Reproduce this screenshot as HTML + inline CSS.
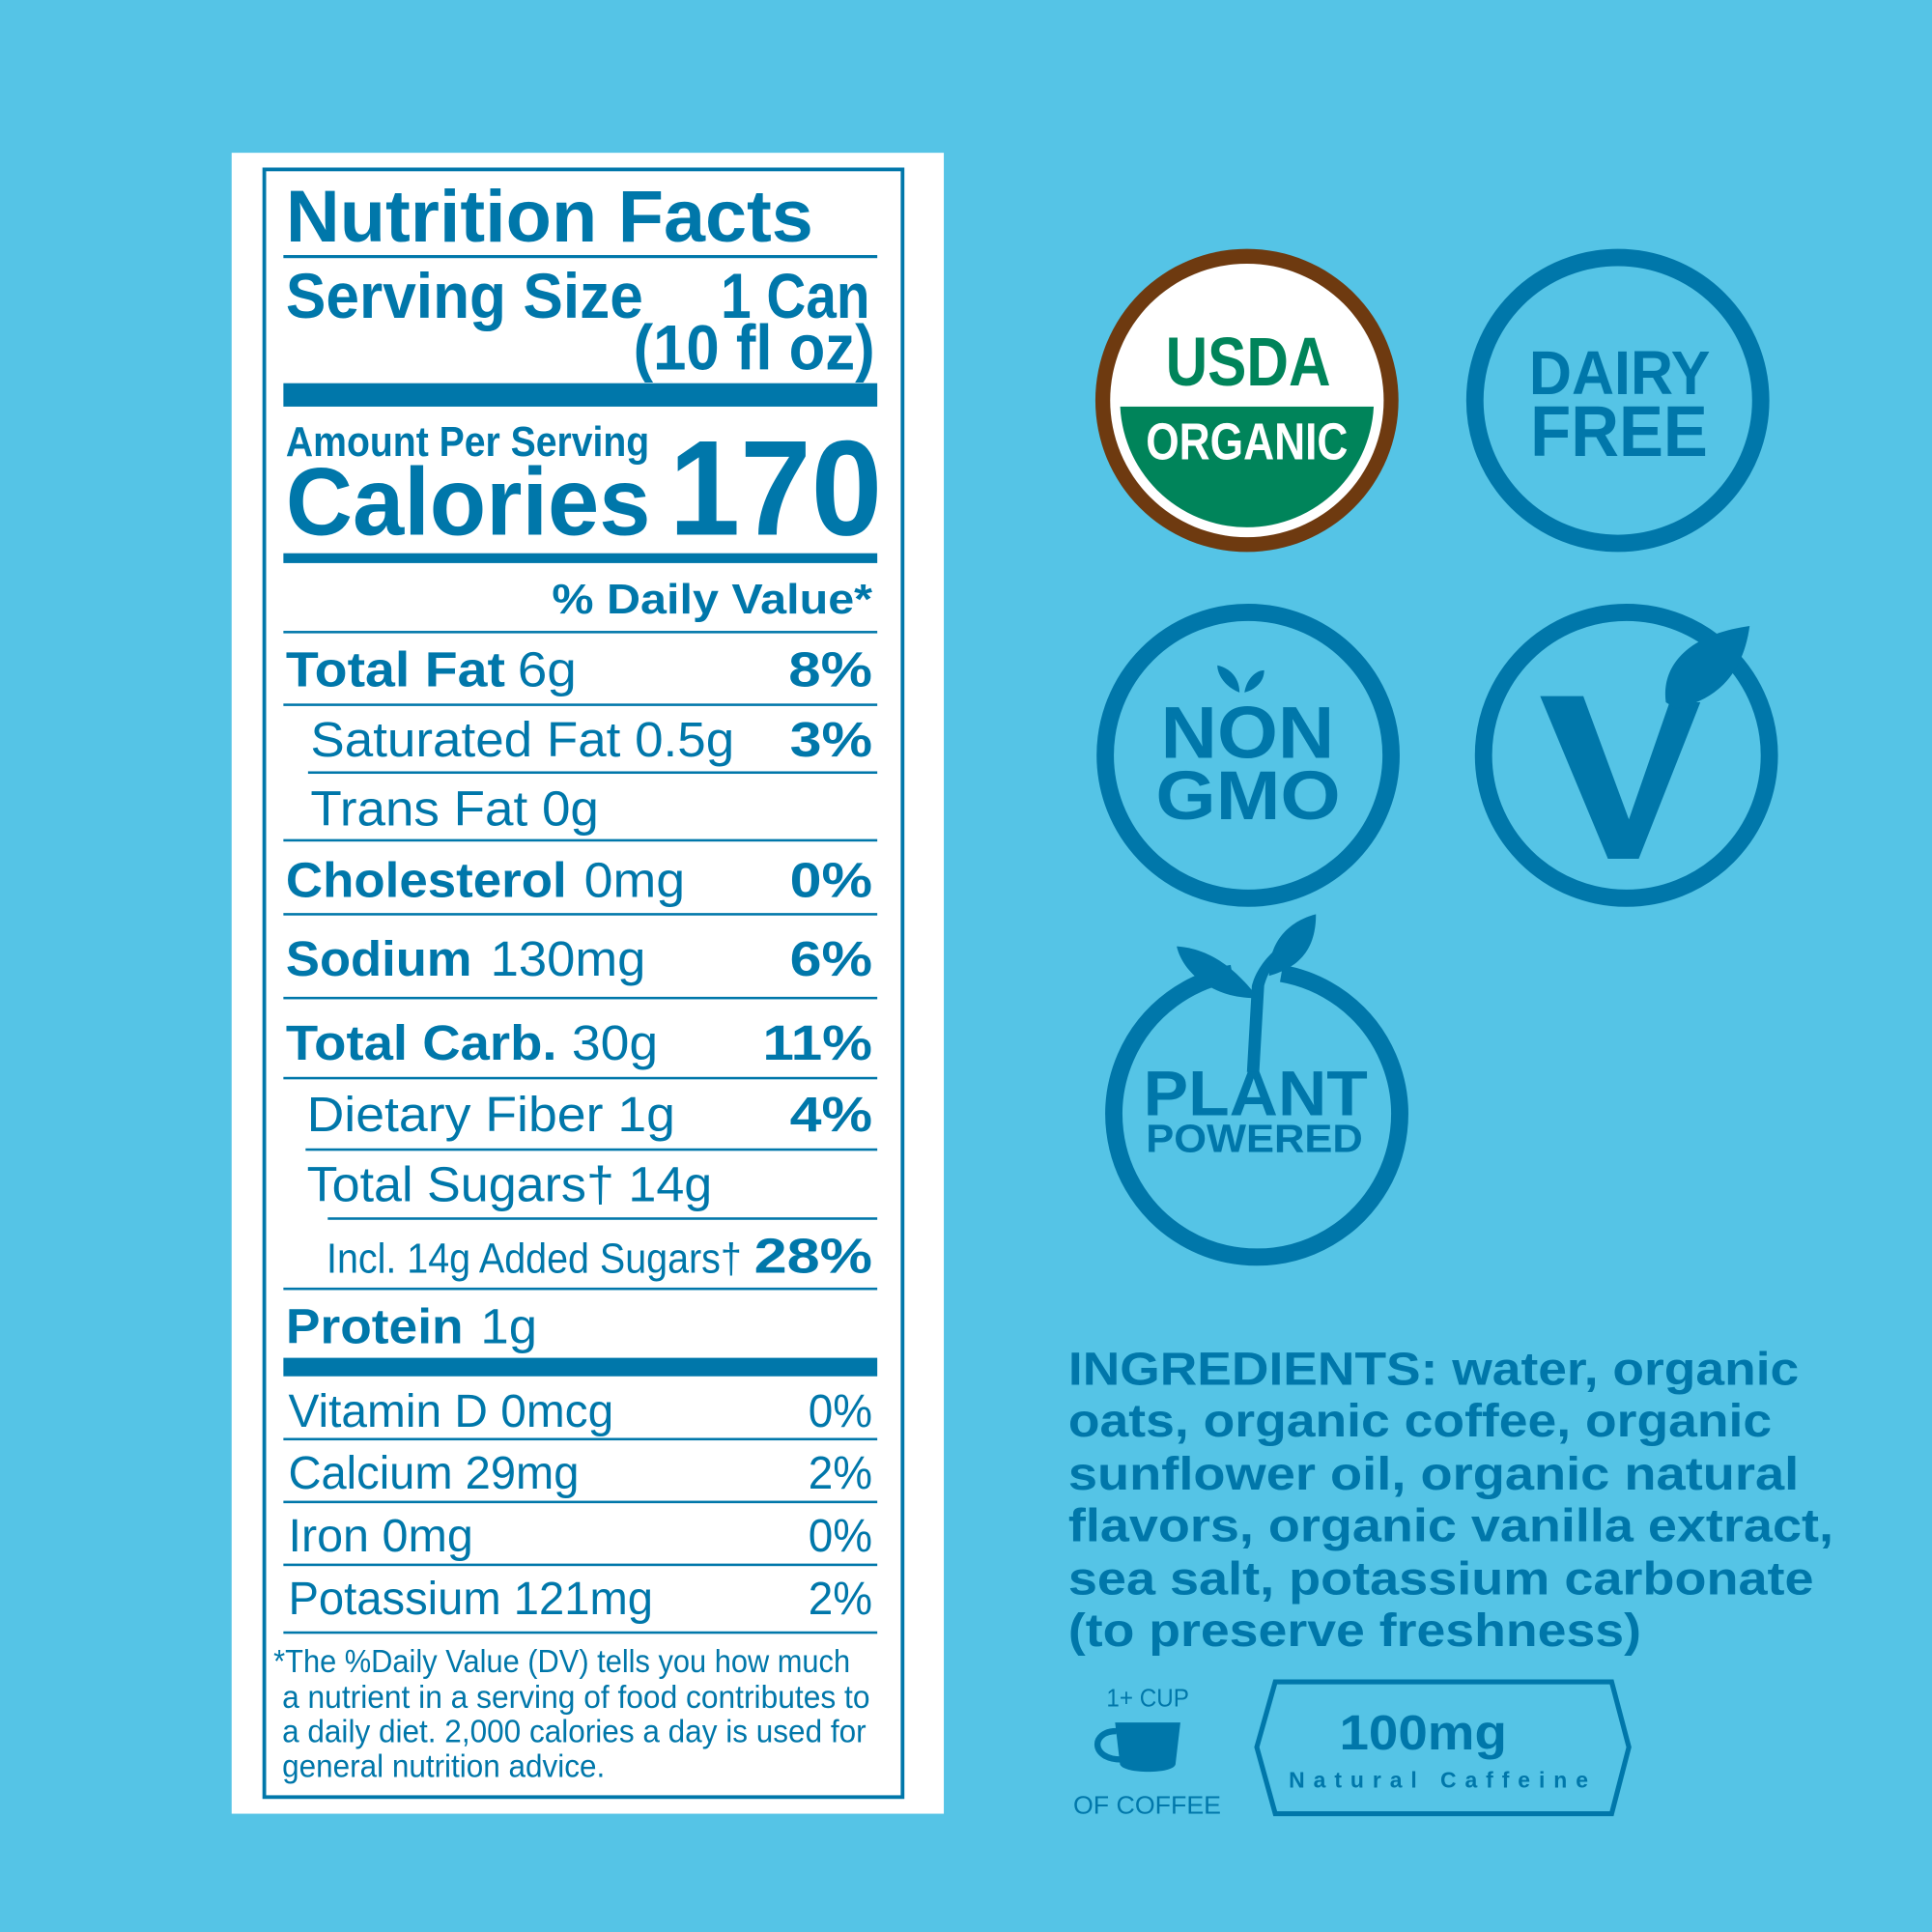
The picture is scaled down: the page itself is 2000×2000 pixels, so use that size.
<!DOCTYPE html>
<html><head><meta charset="utf-8"><style>
html,body{margin:0;padding:0;background:#55c4e6;}
svg{display:block}
text{font-family:"Liberation Sans",sans-serif;}
</style></head><body>
<svg width="2000" height="2000" viewBox="0 0 1568 1568" xmlns="http://www.w3.org/2000/svg">
<rect width="1568" height="1568" fill="#55c4e6"/>
<rect x="188" y="124" width="578" height="1348" fill="#fff"/>
<rect x="214.5" y="137.5" width="518" height="1321" fill="none" stroke="#0077aa" stroke-width="3"/>
<g fill="#0077aa" font-weight="bold">
<text x="232" y="196" font-size="60" textLength="428" lengthAdjust="spacingAndGlyphs">Nutrition Facts</text>
<rect x="230" y="207" width="482" height="2.5"/>
<text x="232" y="258" font-size="52" textLength="290" lengthAdjust="spacingAndGlyphs">Serving Size</text>
<text x="585" y="258" font-size="52" textLength="121" lengthAdjust="spacingAndGlyphs">1 Can</text>
<text x="514" y="300" font-size="52" textLength="196" lengthAdjust="spacingAndGlyphs">(10 fl oz)</text>
<rect x="230" y="311" width="482" height="19"/>
<text x="232" y="370" font-size="34" textLength="295" lengthAdjust="spacingAndGlyphs">Amount Per Serving</text>
<text x="232" y="434" font-size="78" textLength="296" lengthAdjust="spacingAndGlyphs">Calories</text>
<text x="543" y="434" font-size="110" textLength="173" lengthAdjust="spacingAndGlyphs">170</text>
<rect x="230" y="449" width="482" height="8"/>
<text x="448" y="498" font-size="34" textLength="260" lengthAdjust="spacingAndGlyphs">% Daily Value*</text>
<rect x="230" y="512" width="482" height="2"/>
<text x="232" y="557" font-size="40" textLength="178" lengthAdjust="spacingAndGlyphs">Total Fat</text>
<text x="640" y="557" font-size="40" textLength="68" lengthAdjust="spacingAndGlyphs">8%</text>
<rect x="230" y="571" width="482" height="2"/>
<text x="641" y="614" font-size="40" textLength="67" lengthAdjust="spacingAndGlyphs">3%</text>
<rect x="250" y="626" width="462" height="2"/>
<rect x="230" y="681" width="482" height="2"/>
<text x="232" y="728" font-size="40" textLength="228" lengthAdjust="spacingAndGlyphs">Cholesterol</text>
<text x="641" y="728" font-size="40" textLength="67" lengthAdjust="spacingAndGlyphs">0%</text>
<rect x="230" y="741" width="482" height="2"/>
<text x="232" y="792" font-size="40" textLength="151" lengthAdjust="spacingAndGlyphs">Sodium</text>
<text x="641" y="792" font-size="40" textLength="67" lengthAdjust="spacingAndGlyphs">6%</text>
<rect x="230" y="809" width="482" height="2"/>
<text x="232" y="860" font-size="40" textLength="220" lengthAdjust="spacingAndGlyphs">Total Carb.</text>
<text x="619" y="860" font-size="40" textLength="89" lengthAdjust="spacingAndGlyphs">11%</text>
<rect x="230" y="874" width="482" height="2"/>
<text x="641" y="918" font-size="40" textLength="67" lengthAdjust="spacingAndGlyphs">4%</text>
<rect x="248" y="932" width="464" height="2"/>
<rect x="266" y="988" width="446" height="2"/>
<text x="612" y="1033" font-size="40" textLength="96" lengthAdjust="spacingAndGlyphs">28%</text>
<rect x="230" y="1045" width="482" height="2"/>
<text x="232" y="1090" font-size="40" textLength="144" lengthAdjust="spacingAndGlyphs">Protein</text>
<rect x="230" y="1102" width="482" height="15"/>
</g>
<g fill="#0077aa">
<text x="420" y="557" font-size="40" textLength="48" lengthAdjust="spacingAndGlyphs">6g</text>
<text x="252" y="614" font-size="40" textLength="344" lengthAdjust="spacingAndGlyphs">Saturated Fat 0.5g</text>
<text x="252" y="670" font-size="40" textLength="234" lengthAdjust="spacingAndGlyphs">Trans Fat 0g</text>
<text x="474" y="728" font-size="40" textLength="82" lengthAdjust="spacingAndGlyphs">0mg</text>
<text x="398" y="792" font-size="40" textLength="126" lengthAdjust="spacingAndGlyphs">130mg</text>
<text x="464" y="860" font-size="40" textLength="70" lengthAdjust="spacingAndGlyphs">30g</text>
<text x="249" y="918" font-size="40" textLength="299" lengthAdjust="spacingAndGlyphs">Dietary Fiber 1g</text>
<text x="249" y="975" font-size="40" textLength="329" lengthAdjust="spacingAndGlyphs">Total Sugars† 14g</text>
<text x="265" y="1033" font-size="34" textLength="337" lengthAdjust="spacingAndGlyphs">Incl. 14g Added Sugars†</text>
<text x="390" y="1090" font-size="40" textLength="46" lengthAdjust="spacingAndGlyphs">1g</text>
<text x="234" y="1158" font-size="38" textLength="264" lengthAdjust="spacingAndGlyphs">Vitamin D 0mcg</text>
<text x="656" y="1158" font-size="38" textLength="52" lengthAdjust="spacingAndGlyphs">0%</text>
<rect x="230" y="1167" width="482" height="2"/>
<text x="234" y="1208" font-size="38" textLength="236" lengthAdjust="spacingAndGlyphs">Calcium 29mg</text>
<text x="656" y="1208" font-size="38" textLength="52" lengthAdjust="spacingAndGlyphs">2%</text>
<rect x="230" y="1218" width="482" height="2"/>
<text x="234" y="1259" font-size="38" textLength="150" lengthAdjust="spacingAndGlyphs">Iron 0mg</text>
<text x="656" y="1259" font-size="38" textLength="52" lengthAdjust="spacingAndGlyphs">0%</text>
<rect x="230" y="1269" width="482" height="2"/>
<text x="234" y="1310" font-size="38" textLength="296" lengthAdjust="spacingAndGlyphs">Potassium 121mg</text>
<text x="656" y="1310" font-size="38" textLength="52" lengthAdjust="spacingAndGlyphs">2%</text>
<rect x="230" y="1324" width="482" height="2"/>
<text x="222" y="1357" font-size="26" textLength="468" lengthAdjust="spacingAndGlyphs">*The %Daily Value (DV) tells you how much</text>
<text x="229" y="1386" font-size="26" textLength="477" lengthAdjust="spacingAndGlyphs">a nutrient in a serving of food contributes to</text>
<text x="229" y="1414" font-size="26" textLength="474" lengthAdjust="spacingAndGlyphs">a daily diet. 2,000 calories a day is used for</text>
<text x="229" y="1442" font-size="26" textLength="262" lengthAdjust="spacingAndGlyphs">general nutrition advice.</text>
</g>

<defs><clipPath id="inner"><circle cx="1012" cy="325" r="103"/></clipPath></defs>
<circle cx="1012" cy="325" r="123" fill="#6e3a10"/>
<circle cx="1012" cy="325" r="111" fill="#fff"/>
<rect x="900" y="330" width="230" height="110" fill="#00845a" clip-path="url(#inner)"/>
<text x="946" y="313" font-size="56" font-weight="bold" fill="#00845a" textLength="134" lengthAdjust="spacingAndGlyphs">USDA</text>
<text x="930" y="373" font-size="42" font-weight="bold" fill="#fff" textLength="164" lengthAdjust="spacingAndGlyphs">ORGANIC</text>

<g fill="none" stroke="#0077aa" stroke-width="14">
<circle cx="1313" cy="325" r="116"/>
<circle cx="1013" cy="613" r="116"/>
<circle cx="1320" cy="613" r="116"/>
<path d="M 1000 790 A 116 116 0 1 0 1040 790"/>
</g>
<g fill="#0077aa" font-weight="bold">
<text x="1241" y="320" font-size="50" textLength="147" lengthAdjust="spacingAndGlyphs">DAIRY</text>
<text x="1242" y="370" font-size="58" textLength="144" lengthAdjust="spacingAndGlyphs">FREE</text>
<text x="942" y="615" font-size="60" textLength="141" lengthAdjust="spacingAndGlyphs">NON</text>
<text x="938" y="665" font-size="56" textLength="150" lengthAdjust="spacingAndGlyphs">GMO</text>
<path d="M1006 562 C 995 558 988 548 988 540 C 998 542 1006 550 1006 562 Z M1010 562 C 1012 550 1020 544 1026 544 C 1026 554 1018 560 1010 562Z"/>
<path d="M1250 565 L1285 565 L1322 665 L1355 570 L1380 570 L1330 697 L1305 697 Z"/>
<path d="M1352 570 C 1348 540 1370 515 1420 508 C 1415 545 1395 568 1360 575 Z"/>
<text x="928" y="905" font-size="52" textLength="182" lengthAdjust="spacingAndGlyphs">PLANT</text>
<text x="930" y="935" font-size="32" textLength="176" lengthAdjust="spacingAndGlyphs">POWERED</text>
<path d="M1012 870 L1022 870 L1026 800 C 1030 785 1040 775 1045 770 L1040 766 C 1030 775 1020 785 1016 800 Z"/>
<path d="M1018 806 C 1005 790 985 770 955 768 C 960 790 985 810 1018 810Z"/>
<path d="M1030 790 C 1030 765 1045 748 1068 742 C 1068 770 1055 785 1030 792Z"/>
</g>

<g fill="#0077aa" font-weight="bold" font-size="38">
<text x="867" y="1124" textLength="593" lengthAdjust="spacingAndGlyphs">INGREDIENTS: water, organic</text>
<text x="867" y="1166" textLength="571" lengthAdjust="spacingAndGlyphs">oats, organic coffee, organic</text>
<text x="867" y="1209" textLength="593" lengthAdjust="spacingAndGlyphs">sunflower oil, organic natural</text>
<text x="867" y="1251" textLength="621" lengthAdjust="spacingAndGlyphs">flavors, organic vanilla extract,</text>
<text x="867" y="1294" textLength="605" lengthAdjust="spacingAndGlyphs">sea salt, potassium carbonate</text>
<text x="867" y="1336" textLength="465" lengthAdjust="spacingAndGlyphs">(to preserve freshness)</text>
</g>
<g fill="#0077aa">
<text x="898" y="1385" font-size="20" textLength="67" lengthAdjust="spacingAndGlyphs">1+ CUP</text>
<path d="M905 1398 L958 1398 L954 1432 C 952 1440 912 1440 909 1432 Z"/>
<path d="M906 1405 C 885 1405 885 1428 910 1428" fill="none" stroke="#0077aa" stroke-width="5"/>
<text x="871" y="1472" font-size="20" textLength="120" lengthAdjust="spacingAndGlyphs">OF COFFEE</text>
<polygon points="1035,1365 1308,1365 1322,1418 1308,1472 1035,1472 1020,1418" fill="none" stroke="#0077aa" stroke-width="4"/>
<text x="1087" y="1420" font-size="40" font-weight="bold" textLength="136" lengthAdjust="spacingAndGlyphs">100mg</text>
<text x="1046" y="1451" font-size="18" font-weight="bold" letter-spacing="7">Natural Caffeine</text>
</g>
</svg>
</body></html>
